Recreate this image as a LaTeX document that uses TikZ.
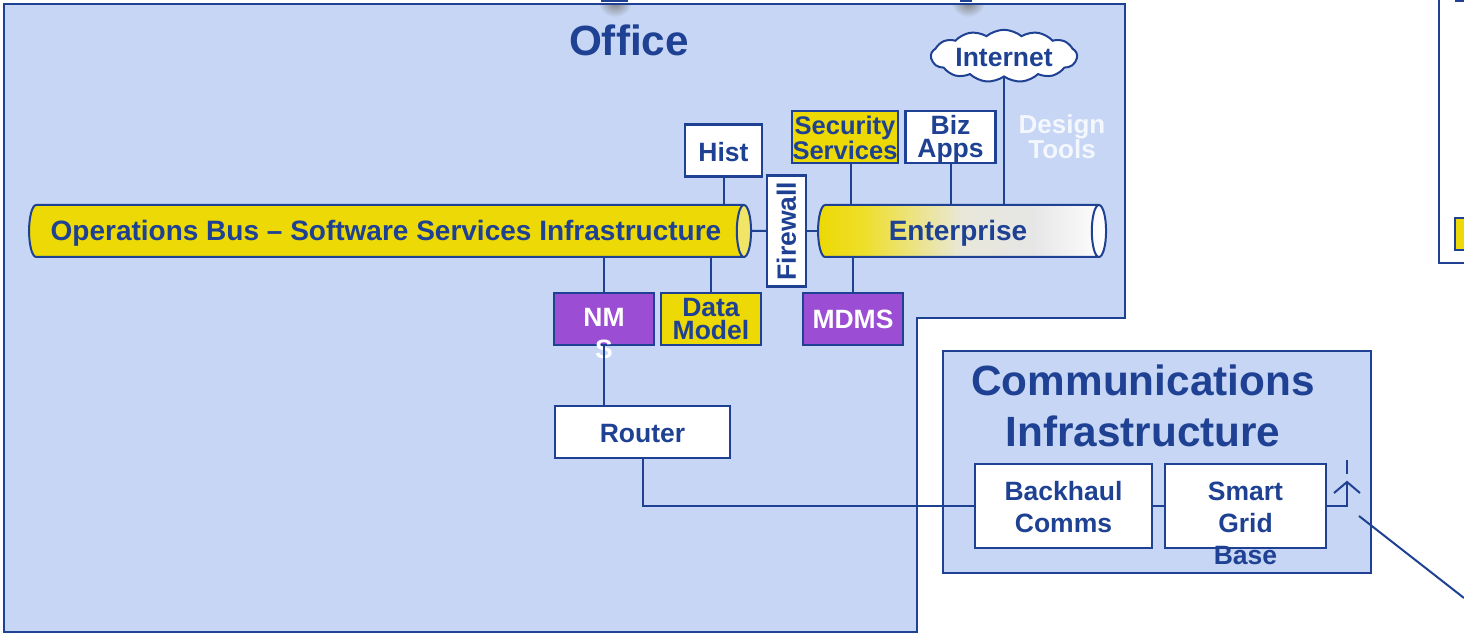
\documentclass[tikz,border=0pt]{standalone}
\usepackage{fontspec}
\setmainfont{Liberation Sans}
\usetikzlibrary{
  calc,
  shapes.geometric,
  shapes.symbols
}
\definecolor{areablue}{HTML}{C6D6F4}
\definecolor{inkblue}{HTML}{1F4193}
\definecolor{busyellow}{HTML}{ECD905}
\definecolor{capyellow}{HTML}{F0E566}
\definecolor{nmspurple}{HTML}{9B4DD3}
\pgfdeclarehorizontalshading{busfade}{100bp}{
  color(0bp)=(busyellow);
  color(25bp)=(busyellow);
  color(33bp)=(busyellow!85!white);
  color(50bp)=(busyellow!45!black!15!white);
  color(62bp)=(black!10!white);
  color(75bp)=(white);
  color(100bp)=(white)}
\tikzset{
  % For the shaded site areas.
  area/.style={
    line width=2pt,
    draw=inkblue,
    fill=areablue},
%
  % For white boxes.
  white box/.style={
    line width=2.5pt,
    draw=inkblue,
    fill=white,
    text=inkblue,
    align=center,
    inner sep=0pt,
    outer sep=0pt,
    font=\bfseries\fontsize{26.5}{23}\selectfont},
%
  % For yellow boxes.
  yellow box/.style={
    white box,
    fill=busyellow},
%
  % For purple boxes.
  purple box/.style={
    white box,
    fill=nmspurple,
    text=white},
%
  % For the two buses.
  bus/.style={
    cylinder,
    shape aspect=.46,
    line width=2pt,
    draw=inkblue,
    text=inkblue,
    inner sep=0pt,
    outer sep=0pt,
    minimum width=52pt,
    text height=25pt,
    text depth=6pt,
    font=\bfseries\fontsize{28}{23}\selectfont},
%
  % For connectors.
  link/.style={
    line width=2pt,
    draw=inkblue},
%
  % For area titles.
  title/.style={
    text=inkblue,
    align=center,
    inner sep=0pt,
    font=\bfseries\fontsize{42.3}{51}\selectfont},
%
  % For text that runs out of its box.
  box text/.style={
    align=center,
    inner sep=0pt,
    font=\bfseries\fontsize{26.5}{32}\selectfont},
}
\begin{document}
\begin{tikzpicture}[x=1pt,y=-1pt]
  \useasboundingbox (0,0) rectangle (1464,636);
  \clip (0,0) rectangle (1464,636);

  % Areas.
  \fill[areablue] (4,4) -| (1125,318) -| (917,632) -| cycle;
  \shade[inner color=black!50, outer color=areablue] (615,2) ellipse (17 and 15);
  \shade[inner color=black!50, outer color=areablue] (968,2) ellipse (17 and 15);
  \fill[white] (590,-2) rectangle (990,3);
  \fill[inkblue] (601,0) rectangle (628,2);
  \fill[inkblue] (960,0) rectangle (972,2);
  \draw[link] (4,4) -| (1125,318) -| (917,632) -| cycle;
  \node[area, minimum width=428, minimum height=222] (comms) at (1157,462) {};

  % Box at the right edge.
  \coordinate (fieldtop) at (1439,0);
  \coordinate (fieldend) at (1464,263);
  \draw[link] (fieldtop) |- (fieldend);
  \draw[link] (1455,1) -- (1464,1);
  \node[yellow box, minimum width=30, minimum height=32] (fieldbox) at (1470,234) {};

  \node[title] (office) at (629,40) {Office};
  \node[title] (commstitle) at (1143,406) {Communications\\Infrastructure};

  % Buses.
  \node[bus, minimum height=722, cylinder uses custom fill,
    cylinder body fill=busyellow, cylinder end fill=capyellow] (ops) at (386,231)
    {Operations Bus -- Software Services Infrastructure};
  \node[bus, minimum height=288, shading=busfade] (ent) at (958,231)
    {Enterprise};

  % Boxes.
  \node[white box, minimum width=77, minimum height=52, text height=23pt] (hist) at (723.5,150.5) {Hist};
  \node[yellow box, minimum width=106, minimum height=52] (security) at (845,137) {};
  \node[white box, minimum width=90, minimum height=52] (biz) at (950.5,137) {};
  \node[white box, minimum width=111, minimum height=39, rotate=90] (firewall) at (786.5,231) {Firewall};
  \node[purple box, minimum width=100, minimum height=52] (nms) at (604,319) {};
  \node[yellow box, minimum width=100, minimum height=52] (datamodel) at (711,319) {Data\\Model};
  \node[purple box, minimum width=100, minimum height=52] (mdms) at (853,319) {MDMS};
  \node[white box, minimum width=175, minimum height=52, text height=21.5pt] (router) at (642.5,432) {Router};
  \node[white box, minimum width=177, minimum height=84] (backhaul) at (1063.5,506) {};
  \node[white box, minimum width=161, minimum height=84] (smart) at (1245.5,506) {};
  \node[cloud, cloud puffs=13, cloud puff arc=80, aspect=3.3, line width=2pt, draw=inkblue, fill=white,
    text=inkblue, inner sep=0pt, outer sep=0pt, minimum width=146, minimum height=44,
    text height=21pt, font=\bfseries\fontsize{26.5}{23}\selectfont] (internet) at (1004,56) {Internet};

  % This text overlaps the lines or leaves its box.
  \node[box text, text=inkblue, font=\bfseries\fontsize{25.5}{23}\selectfont] (securitytext) at (845,138) {Security\\Services};
  \node[box text, text=inkblue, font=\bfseries\fontsize{26.5}{23}\selectfont] (biztext) at (950.5,139) {Biz\\Apps};
  \node[box text, text=white] (nmstext) at (604,334) {NM\\S};
  \node[box text, text=inkblue] (backhaultext) at (1063.5,507) {Backhaul\\Comms};
  \node[box text, text=inkblue] (smarttext) at (1245.5,523) {Smart\\Grid\\Base};
  \node[box text, text=areablue!20!white, font=\bfseries\fontsize{26}{23}\selectfont] (design) at (1062,137) {Design\\Tools};

  % Connectors.
  \draw[link] (hist.south) -- (hist.south |- ops.north);
  \draw[link] (ops.east) -- (firewall.north);
  \draw[link] (firewall.south) -- (ent.west);
  \draw[link] (851,163) coordinate (secfoot) -- (secfoot |- ent.north);
  \draw[link] (biz.south) -- (biz.south |- ent.north);
  \draw[link] (internet.south) -- (internet.south |- ent.north);
  \draw[link] (mdms.north) -- (mdms.north |- ent.south);
  \draw[link] (nms.north) -- (nms.north |- ops.south);
  \draw[link] (datamodel.north) -- (datamodel.north |- ops.south);
  \draw[link] (nms.south) -- (nms.south |- router.north);
  \draw[link] (router.south) |- (backhaul.west);
  \draw[link] (backhaul.east) -- (smart.west);

  % Antenna.
  \coordinate (apex) at (1347,482);
  \coordinate (mast) at (1347,460);
  \coordinate (masttop) at (1347,474);
  \coordinate (radiostart) at (1359,516);
  \coordinate (radioend) at (1464,598);
  \draw[link] (smart.east) -| (apex);
  \draw[link] (1334,493) -- (apex) -- (1360,493);
  \draw[link] (mast) -- (masttop);
  \draw[link] (radiostart) -- (radioend);
\end{tikzpicture}
\end{document}
